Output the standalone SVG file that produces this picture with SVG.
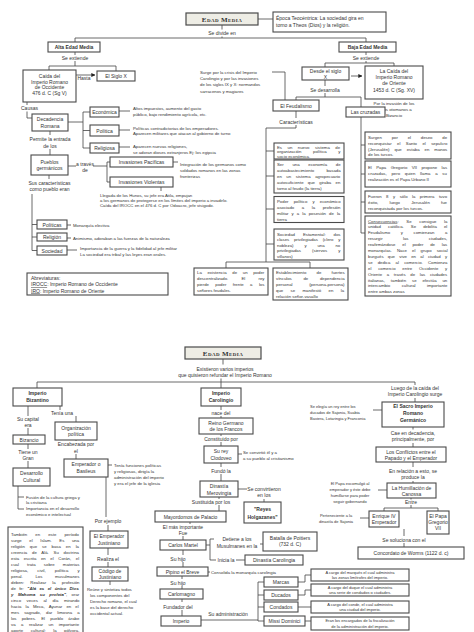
<svg xmlns="http://www.w3.org/2000/svg" width="474" height="632" viewBox="0 0 474 632">
<style>
text{font-family:"Liberation Sans",Arial,sans-serif;fill:#333}
.m{font-size:5px}
.s{font-size:4.3px}
.xs{font-size:4px}
.c{text-anchor:middle}
.bd{font-weight:bold}
.bx{fill:#fff;stroke:#4a4a4a;stroke-width:1.1}
.ttl{fill:#eeede5;stroke:#4a4a4a;stroke-width:1.2}
.tt{font-family:"Liberation Serif","Times New Roman",serif;font-weight:bold;font-variant:small-caps;font-size:7px;letter-spacing:0.4px}
.ln{fill:none;stroke:#444;stroke-width:0.8}
.bi{font-weight:bold;font-style:italic}
</style>
<defs>
<marker id="ar" viewBox="0 0 6 6" refX="5.5" refY="3" markerWidth="5" markerHeight="5" orient="auto"><path d="M0,0 L6,3 L0,6 z" fill="#222"/></marker>
</defs>
<rect width="474" height="632" fill="#fff"/>

<g id="connectors" class="ln">
<path d="M258,19 H273"/>
<path d="M222,25 V29.5 M222,36.5 V38 M75,38 H366 M75,38 V42 M366,38 V42"/>
<path d="M75,52 V55 M75,61 V66 M49,66 H116 M49,66 V70 M116,66 V71"/>
<path d="M76,75 H95" marker-end="url(#ar)"/>
<path d="M27,102 V105 M27,111.5 V118 H32"/>
<path d="M68,122 H83 M83,112 V148 M83,112 H90 M83,130.5 H90 M83,148 H90"/>
<path d="M119,111 H130 M119,130 H130 M119,147 H130"/>
<path d="M50,131 V135 M50,149 V155"/>
<path d="M68,166 H76 M93,166 H107 M107,162 V182 M107,162 H110 M107,182 H110"/>
<path d="M173,162 H178 M161,187 V191"/>
<path d="M49,175 V179 M32,194 V250.5 M32,224.5 H37 M32,237 H37 M32,250.5 H37"/>
<path d="M67,225 H71 M67,238 H71 M67,250 H77"/>
<path d="M366,52 V55 M366,61 V63 M325,63 H394 M325,63 V67 M394,63 V66"/>
<path d="M351,76 H362" marker-end="url(#ar)"/>
<path d="M325,80 V86 M325,93 V97 M296,97 H361 M296,97 V100 M361,97 V107"/>
<path d="M272,72 H285 V100"/>
<path d="M296,111 V118 M296,125 V128 M266,128 H296 M266,128 V262 M266,151 H274 M266,176 H274 M266,209 H274 M266,244 H274"/>
<path d="M226,262 H310 M226,262 V268 M310,262 V268"/>
<path d="M361,117 V233 M361,145 H365 M361,174 H365 M361,202 H365 M361,233 H365"/>
<path d="M223,359 V364.5 M221,378.5 V388 M37,382 H415 M37,382 V388 M415,382 V385"/>
<path d="M415,398 V402 M373,410 H382"/>
<path d="M413,427 V429.5 M413,443 V447 M413,462 V467 M413,481 V483 M378,490 H387"/>
<path d="M411,498 V499.5 M411,505 V508 M384,508 H438 M384,508 V511 M438,508 V511 M360,518 H369"/>
<path d="M404,529 V536 M404,543 V547"/>
<path d="M221,406 V410 M221,416 V418 M221,434 V436 M221,442 V446 M238,454 H242 M221,463 V467 M221,474 V481"/>
<path d="M238,489 H247 M264,499 V502 M219,497 V499 M219,505 V511 M190,522 V524 M183,536 V540"/>
<path d="M206,545 H210 M210,539 V560 M210,539 H214 M210,560 H216 M260,544 H263 M236,560 H245"/>
<path d="M183,550 V555 M183,562 V567 M208,572 H210 M182,576 V579 M182,586 V589 M182,599 V602 M182,610 V616"/>
<path d="M201,620 H258 M258,582 V621 M258,582 H264 M258,595 H264 M258,607 H264 M258,621 H264"/>
<path d="M298,582 H305 V575 H311 M298,595 H305 V590 H311 M298,607 H311 M305,621 H311"/>
<path d="M60,406 V410 M76,416 V422 M28,406 V416 M28,428 V435 M28,444 V449 M28,461 V468"/>
<path d="M76,440 V441 M76,454 V459 M108,465 H112 M106,477 V517 M108,525 V531 M108,548 V555 M108,562 V567 M110,581 V585"/>
<path d="M18,486 V509 M18,497 H24 M18,509 H24"/>
</g>

<g id="edad-media-1"><rect class="ttl" x="186" y="13" width="72" height="12"/><text class="tt c" x="222" y="22">Edad Media</text></g>
<g id="epoca"><rect class="bx" x="273" y="12" width="113" height="20"/><text class="m" x="276" y="20">Época Teocéntrica: La sociedad gira en<tspan x="276" y="27">torno a Theos (Dios) y la religión.</tspan></text></g>
<text class="m c" x="222" y="35">Se divide en</text>

<g id="alta"><rect class="bx" x="48" y="42" width="52" height="10"/><text class="m c bd" x="74" y="49">Alta Edad Media</text></g>
<text class="m c" x="75" y="60">Se extiende</text>
<g id="caida-occ"><rect class="bx" x="23" y="70" width="53" height="32"/><text class="m c" x="49.5" y="78">Caída del<tspan x="49.5" y="83.5">Imperio Romano</tspan><tspan x="49.5" y="89">de Occidente</tspan><tspan x="49.5" y="95">476 d. C (Sg V)</tspan></text></g>
<g id="siglo-x"><rect class="bx" x="97" y="71" width="38" height="10"/><text class="m c" x="116" y="78">El Siglo X</text></g>
<text class="m c" x="84" y="80">Hasta</text>
<text class="m" x="21" y="110">Causas</text>
<g id="decadencia"><rect class="bx" x="32" y="114" width="36" height="17"/><text class="m c" x="50" y="121">Decadencia<tspan x="50" y="127.5">Romana</tspan></text></g>
<g id="economica"><rect class="bx" x="90" y="107" width="29" height="10"/><text class="m c" x="104.5" y="114">Económica</text></g>
<g id="politica"><rect class="bx" x="90" y="125" width="29" height="11"/><text class="m c" x="104.5" y="132.5">Política</text></g>
<g id="religiosa"><rect class="bx" x="90" y="143" width="29" height="10"/><text class="m c" x="104.5" y="150">Religiosa</text></g>
<text class="s" x="133" y="110">Altos impuestos, aumento del gasto<tspan x="133" y="116">público, bajo rendimiento agrícola, etc.</tspan></text>
<text class="s" x="133" y="129.5">Políticas contradictorias de los emperadores.<tspan x="133" y="135">Aparecen militares que atacan al gobierno de turno</tspan></text>
<text class="s" x="133" y="147.5">Aparecen nuevas religiones,<tspan x="133" y="153.5">se adoran dioses extranjeros Ej: los egipcia</tspan></text>
<text class="m c" x="50" y="141">Permite la entrada<tspan x="50" y="147.5">de los</tspan></text>
<g id="pueblos"><rect class="bx" x="31" y="155" width="37" height="20"/><text class="m c" x="49.5" y="163.5">Pueblos<tspan x="49.5" y="170">germánicos</tspan></text></g>
<text class="m c" x="85" y="166">a través<tspan x="85" y="172">de</tspan></text>
<g id="inv-pac"><rect class="bx" x="110" y="157" width="63" height="10"/><text class="m c" x="141.5" y="164">Invasiones Pacíficas</text></g>
<g id="inv-vio"><rect class="bx" x="110" y="177" width="63" height="10"/><text class="m c" x="141.5" y="184">Invasiones Violentas</text></g>
<text class="s" x="180" y="165.5">Integración de los germanos como<tspan x="180" y="172">soldados romanos en las zonas</tspan><tspan x="180" y="178">fronterizas</tspan></text>
<text class="s" x="100" y="196.5">Llegada de los Hunos, su jefe era Atila, empujan<tspan x="100" y="201.5">a los germanos de protegerse en los límites del imperio a invadirlo.</tspan><tspan x="100" y="206.5">Caída del IROCC en el 476 d. C por Odoacro, jefe visigodo.</tspan></text>
<text class="m c" x="49.5" y="184.5">Sus características<tspan x="49.5" y="191">como pueblo eran</tspan></text>
<g id="politicas"><rect class="bx" x="37" y="220" width="30" height="9"/><text class="m c" x="52" y="226.5">Políticas</text></g>
<g id="religion"><rect class="bx" x="37" y="233" width="30" height="8"/><text class="m c" x="52" y="239">Religión</text></g>
<g id="sociedad"><rect class="bx" x="37" y="246" width="30" height="9"/><text class="m c" x="52" y="252.5">Sociedad</text></g>
<text class="s" x="73" y="226.5">Monarquía electiva</text>
<text class="s" x="73" y="239.5">Animismo, adoraban a las fuerzas de la naturaleza</text>
<text class="s" x="80" y="250">Importancia de la guerra y la fidelidad al jefe militar<tspan x="80" y="256">La sociedad era tribal y las leyes eran orales.</tspan></text>
<g id="abreviaturas"><rect class="bx" x="27" y="273" width="141" height="22"/><text class="m" x="31" y="279.5">Abreviaturas:</text><text class="m" x="31" y="286"><tspan text-decoration="underline">IROCC</tspan>: Imperio Romano de Occidente</text><text class="m" x="31" y="292.5"><tspan text-decoration="underline">IRO</tspan>: Imperio Romano de Oriente</text></g>

<g id="baja"><rect class="bx" x="339" y="42" width="57" height="10"/><text class="m c bd" x="367.5" y="49">Baja Edad Media</text></g>
<text class="m c" x="366" y="59.5">Se extiende</text>
<g id="desde"><rect class="bx" x="302" y="67" width="47" height="13"/><text class="m c" x="325.5" y="72.8">Desde el siglo<tspan x="325.5" y="78.6">X</tspan></text></g>
<g id="caida-ori"><rect class="bx" x="365" y="66" width="58" height="33"/><text class="m c" x="394" y="72.7">La Caída del<tspan x="394" y="79">Imperio Romano</tspan><tspan x="394" y="85.3">de Oriente</tspan><tspan x="394" y="91.6">1453 d. C (Sg. XV)</tspan></text></g>
<text class="s c" x="394" y="104.5">Por la invasión de los<tspan x="394" y="110.5">turcos otomanos a</tspan><tspan x="394" y="116.5">Bizancio</tspan></text>
<text class="m c" x="325" y="91.5">Se desarrolla</text>
<text class="s" x="200" y="73.5">Surge por la crisis del Imperio<tspan x="200" y="80">Carolingio y por las invasiones</tspan><tspan x="200" y="86.3">de los siglos IX y X: normandos</tspan><tspan x="200" y="92.6">sarracenos y magiares</tspan></text>
<g id="feudalismo"><rect class="bx" x="273" y="100" width="46" height="11"/><text class="m c" x="296" y="107.5">El Feudalismo</text></g>
<text class="m c" x="296" y="123.5">Características</text>
<g id="cruzadas"><rect class="bx" x="346" y="107" width="39" height="10"/><text class="m c" x="365.5" y="114">Las cruzadas</text></g>

<g id="feud-1"><rect class="bx" x="274" y="143" width="70" height="16"/>
<text class="s" x="277" y="148.5" word-spacing="4.3">Es un nuevo sistema de</text>
<text class="s" x="277" y="153" word-spacing="10.5">organización política y</text>
<text class="s" x="277" y="157.5">socio económica.</text></g>
<g id="feud-2"><rect class="bx" x="274" y="160" width="70" height="33"/>
<text class="s" x="277" y="165.5" word-spacing="7.5">Ser una economía de</text>
<text class="s" x="277" y="171.5" word-spacing="11">autoabastecimiento basada</text>
<text class="s" x="277" y="177.5" word-spacing="3.4">en un sistema agropecuario</text>
<text class="s" x="277" y="183.5" word-spacing="3.1">autosuficiente que giraba en</text>
<text class="s" x="277" y="189.5">torno al feudo (la tierra)</text></g>
<g id="feud-3"><rect class="bx" x="274" y="196.5" width="70" height="26"/>
<text class="s" x="277" y="202.5" word-spacing="4">Poder político y económico</text>
<text class="s" x="277" y="208.5" word-spacing="6.4">asociado a la profesión</text>
<text class="s" x="277" y="214.5" word-spacing="1.9">militar y a la posesión de la</text>
<text class="s" x="277" y="220.5">tierra</text></g>
<g id="feud-4"><rect class="bx" x="274" y="229" width="70" height="31"/>
<text class="s" x="277" y="235.5" word-spacing="6.8">Sociedad Estamental: dos</text>
<text class="s" x="277" y="241" word-spacing="3.6">clases privilegiadas (clero y</text>
<text class="s" x="277" y="246.5" word-spacing="9.7">nobleza) y una no</text>
<text class="s" x="277" y="252" word-spacing="10">privilegiadas (siervos y</text>
<text class="s" x="277" y="257.5">villanos)</text></g>
<g id="feud-5"><rect class="bx" x="273" y="268" width="75" height="32"/>
<text class="s" x="276" y="273.5" word-spacing="9">Establecimiento de fuertes</text>
<text class="s" x="276" y="279.5" word-spacing="10.5">vínculos de dependencia</text>
<text class="s" x="276" y="285.5" word-spacing="15.5">personal (persona-persona)</text>
<text class="s" x="276" y="291.5" word-spacing="6.2">que se manifestó en la</text>
<text class="s" x="276" y="297.5">relación señor-vasallo</text></g>
<g id="feud-6"><rect class="bx" x="194" y="268" width="74" height="27"/>
<text class="s" x="197" y="274" word-spacing="4.5">La existencia de un poder</text>
<text class="s" x="197" y="280" word-spacing="12">descentralizado. El rey</text>
<text class="s" x="197" y="286" word-spacing="5.2">pierde poder frente a los</text>
<text class="s" x="197" y="292">señores feudales.</text></g>

<g id="cruz-1"><rect class="bx" x="365" y="132" width="86" height="27"/>
<text class="s" x="368" y="138.5" word-spacing="8.6">Surgen por el deseo de</text>
<text class="s" x="368" y="144.5" word-spacing="4.2">reconquistar el Santo el sepulcro</text>
<text class="s" x="368" y="150.5" word-spacing="3.8">(Jerusalén) que estaba en manos</text>
<text class="s" x="368" y="156.3">de los turcos.</text></g>
<g id="cruz-2"><rect class="bx" x="365" y="161" width="86" height="26"/>
<text class="s" x="368" y="168.5" word-spacing="3.2">El Papa Gregorio VII propone las</text>
<text class="s" x="368" y="174.5" word-spacing="3.6">cruzadas, pero quien llama a su</text>
<text class="s" x="368" y="180.5">realización es el Papa Urbano II</text></g>
<g id="cruz-3"><rect class="bx" x="365" y="191" width="86" height="22"/>
<text class="s" x="368" y="198" word-spacing="3.3">Fueron 8 y sólo la primera tuvo</text>
<text class="s" x="368" y="203.5" word-spacing="10">éxito, luego Jerusalén fue</text>
<text class="s" x="368" y="209.5">reconquistada por los turcos.</text></g>
<g id="cruz-4"><rect class="bx" x="365" y="216" width="86" height="80"/>
<text class="s" x="368" y="222.5" word-spacing="6.5"><tspan text-decoration="underline">Consecuencias</tspan>: Se consigue la</text>
<text class="s" x="368" y="228.4" word-spacing="5.9">unidad católica. Se debilita el</text>
<text class="s" x="368" y="234.3" word-spacing="9.4">Feudalismo y comienzan a</text>
<text class="s" x="368" y="240.2" word-spacing="19.2">resurgir las ciudades,</text>
<text class="s" x="368" y="246.1" word-spacing="5.6">reafirmándose el poder de las</text>
<text class="s" x="368" y="252" word-spacing="3.9">monarquías. Nace el grupo social</text>
<text class="s" x="368" y="257.9" word-spacing="3.1">burgués que vive en al ciudad y</text>
<text class="s" x="368" y="263.8" word-spacing="4">se dedica al comercio. Comienza</text>
<text class="s" x="368" y="269.7" word-spacing="5.6">el comercio entre Occidente y</text>
<text class="s" x="368" y="275.6" word-spacing="3.5">Oriente a través de las ciudades</text>
<text class="s" x="368" y="281.5" word-spacing="4.7">italianas, también se efectúa un</text>
<text class="s" x="368" y="287.4" word-spacing="10.3">intercambio cultural importante</text>
<text class="s" x="368" y="293.3">entre ambas zonas</text></g>

<g id="edad-media-2"><rect class="ttl" x="185" y="347" width="76" height="12"/><text class="tt c" x="223" y="356">Edad Media</text></g>
<text class="m c" x="225" y="370.5">Existieron varios imperios<tspan x="225" y="376.5">que quisieron refundar el Imperio Romano</tspan></text>

<g id="bizantino"><rect class="bx" x="13" y="388" width="49" height="18"/><text class="m c bd" x="37.5" y="395.3">Imperio<tspan x="37.5" y="401.8">Bizantino</tspan></text></g>
<text class="m c" x="62" y="414.5">Tenía una</text>
<text class="m c" x="28" y="420.5">Su capital<tspan x="28" y="426.5">era</tspan></text>
<g id="organizacion"><rect class="bx" x="55" y="422" width="42" height="18"/><text class="m c" x="76" y="429.5">Organización<tspan x="76" y="436">política</tspan></text></g>
<g id="bizancio"><rect class="bx" x="13" y="435" width="32" height="9"/><text class="m c" x="29" y="441.5">Bizancio</text></g>
<text class="m c" x="76" y="446">Encabezada por<tspan x="76" y="452.5">el</tspan></text>
<text class="m c" x="28" y="453.5">Tiene un<tspan x="28" y="459.5">Gran</tspan></text>
<g id="emperador"><rect class="bx" x="64" y="459" width="44" height="18"/><text class="m c" x="86" y="466">Emperador o<tspan x="86" y="472.5">Basileus</tspan></text></g>
<text class="s" x="114" y="466.5">Tenía funciones políticas<tspan x="114" y="472.5">y religiosas, dirigía la</tspan><tspan x="114" y="478.5">administración del imperio</tspan><tspan x="114" y="484.5">y era el jefe de la iglesia</tspan></text>
<g id="desarrollo"><rect class="bx" x="13" y="468" width="37" height="18"/><text class="m c" x="31.5" y="475">Desarrollo<tspan x="31.5" y="482">Cultural</tspan></text></g>
<text class="s" x="26" y="498.5">Fusión de la cultura griega y<tspan x="26" y="504">la cristiana</tspan><tspan x="26" y="510">Importancia en el desarrollo</tspan><tspan x="26" y="515.5">económico e intelectual</tspan></text>
<text class="m c" x="108" y="522.5">Por ejemplo</text>
<g id="justiniano"><rect class="bx" x="90" y="531" width="38" height="17"/><text class="m c" x="109" y="538">El Emperador<tspan x="109" y="544.5">Justiniano</tspan></text></g>
<text class="m c" x="108" y="560.5">Realiza el</text>
<g id="codigo"><rect class="bx" x="92" y="567" width="36" height="14"/><text class="m c" x="110" y="573">Código de<tspan x="110" y="579">Justiniano</tspan></text></g>
<text class="s" x="87" y="590.5">Reúne y sintetiza todos<tspan x="90" y="596.5">los componentes del</tspan><tspan x="90" y="602.5">Derecho romano, el cual</tspan><tspan x="90" y="608.5">es la base del derecho</tspan><tspan x="90" y="614.5">occidental actual.</tspan></text>
<g id="islam"><rect class="bx" x="8" y="527" width="75" height="110"/>
<text class="s" x="11" y="535.5" word-spacing="6.9">También en este período</text>
<text class="s" x="11" y="541.5" word-spacing="6.4">surge el Islam. Es una</text>
<text class="s" x="11" y="547.5" word-spacing="3.8">religión que se basa en la</text>
<text class="s" x="11" y="553.5" word-spacing="3.6">creencia de Alá. Su doctrina</text>
<text class="s" x="11" y="559.5" word-spacing="3.4">esta escrita en el Corán, el</text>
<text class="s" x="11" y="565.5" word-spacing="7">cual trata sobre materias</text>
<text class="s" x="11" y="571.5" word-spacing="7.9">religiosa, civil, política y</text>
<text class="s" x="11" y="577.5" word-spacing="11.5">penal. Los musulmanes</text>
<text class="s" x="11" y="583.5" word-spacing="5">deben: Realizar la profesión</text>
<text class="s" x="11" y="589.5" word-spacing="2.2">de fe: <tspan class="bi">"Alá es el único Dios</tspan></text>
<text class="s" x="11" y="595.5" word-spacing="3.3"><tspan class="bi">y Mahoma su profeta"</tspan>, orar</text>
<text class="s" x="11" y="601.5" word-spacing="4.4">cinco veces al día mirando</text>
<text class="s" x="11" y="607.5" word-spacing="3">hacia la Meca, Ayunar en el</text>
<text class="s" x="11" y="613.5" word-spacing="3.9">mes sagrado, dar limosna a</text>
<text class="s" x="11" y="619.5" word-spacing="4">los pobres. El pueblo árabe</text>
<text class="s" x="11" y="625.5" word-spacing="4.3">va a realizar un importante</text>
<text class="s" x="11" y="631.5" word-spacing="6.3">aporte cultural: la pólvora,</text></g>

<g id="carolingio"><rect class="bx" x="201" y="388" width="40" height="18"/><text class="m c bd" x="221" y="395.3">Imperio<tspan x="221" y="401.8">Carolingio</tspan></text></g>
<text class="m c" x="221" y="414.5">nace del</text>
<g id="reino"><rect class="bx" x="199" y="418" width="54" height="16"/><text class="m c" x="226" y="424.5">Reino Germano<tspan x="226" y="431">de los Francos</tspan></text></g>
<text class="m c" x="221" y="440.5">Constituido por</text>
<g id="clodoveo"><rect class="bx" x="204" y="446" width="34" height="17"/><text class="m c" x="221" y="453">Su rey<tspan x="221" y="459.5">Clodoveo</tspan></text></g>
<text class="s" x="243" y="454">Se convirtió él y a<tspan x="243" y="460">a su pueblo al cristianismo</tspan></text>
<text class="m c" x="221" y="472.5">Fundó la</text>
<g id="merovingia"><rect class="bx" x="200" y="481" width="38" height="16"/><text class="m c" x="219" y="488">Dinastía<tspan x="219" y="494.5">Merovingia</tspan></text></g>
<text class="m c" x="264" y="490.5">Se convirtieron<tspan x="264" y="497">en los</tspan></text>
<g id="holgazanes"><rect class="bx" x="244" y="502" width="37" height="21"/><text class="m c bd" x="262.5" y="510.5">"Reyes<tspan x="262.5" y="518.5">Holgazanes"</tspan></text></g>
<text class="m c" x="211" y="503.5">Sustituida por los</text>
<g id="mayordomos"><rect class="bx" x="155" y="511" width="71" height="11"/><text class="m c" x="190.5" y="518.5">Mayordomos de Palacio</text></g>
<text class="m c" x="183" y="529">El más importante<tspan x="183" y="535">Fue</tspan></text>
<g id="martel"><rect class="bx" x="160" y="540" width="46" height="10"/><text class="m c" x="183" y="547">Carlos Martel</text></g>
<text class="m c" x="237" y="540.5">Detiene a los<tspan x="237" y="547.5">Musulmanes en la</tspan></text>
<g id="poitiers"><rect class="bx" x="263" y="532" width="54" height="19"/><text class="m c" x="290" y="539.5">Batalla de Poitiers<tspan x="290" y="546">(732 d. C)</tspan></text></g>
<text class="m c" x="226" y="561.5">Inicia la</text>
<g id="din-carolingia"><rect class="bx" x="245" y="555" width="58" height="10"/><text class="m c" x="274" y="562">Dinastía Carolingia</text></g>
<text class="m c" x="178" y="560.5">Su hijo</text>
<g id="pipino"><rect class="bx" x="157" y="567" width="51" height="9"/><text class="m c" x="182.5" y="573.5">Pipino el Breve</text></g>
<text class="s" x="211" y="573.5">Consolida la monarquía carolingia</text>
<text class="m c" x="178" y="584.5">Su hijo</text>
<g id="carlomagno"><rect class="bx" x="160" y="589" width="43" height="10"/><text class="m c" x="181.5" y="596">Carlomagno</text></g>
<text class="m c" x="178" y="608.5">Fundador del</text>
<g id="imperio"><rect class="bx" x="161" y="616" width="40" height="10"/><text class="m c" x="181" y="623">Imperio</text></g>
<text class="m c" x="228" y="615.5">Su administración</text>
<g id="marcas"><rect class="bx" x="264" y="577" width="34" height="10"/><text class="m c" x="281" y="584">Marcas</text></g>
<g id="ducados"><rect class="bx" x="264" y="590" width="34" height="10"/><text class="m c" x="281" y="597">Ducados</text></g>
<g id="condados"><rect class="bx" x="264" y="602" width="34" height="10"/><text class="m c" x="281" y="609">Condados</text></g>
<g id="missi"><rect class="bx" x="264" y="616" width="41" height="10"/><text class="m c" x="284.5" y="623">Missi Dominici</text></g>
<g id="d-marcas"><rect class="bx" x="311" y="569" width="98" height="12"/><text class="xs c" x="360" y="573.8">A cargo del marqués el cual administra<tspan x="360" y="579.3">las zonas limítrofes del imperio.</tspan></text></g>
<g id="d-ducados"><rect class="bx" x="311" y="584" width="98" height="12"/><text class="xs c" x="360" y="588.8">A cargo del duque el cual administra<tspan x="360" y="594.3">una serie de condados o ciudades.</tspan></text></g>
<g id="d-condados"><rect class="bx" x="311" y="601" width="98" height="12"/><text class="xs c" x="360" y="605.8">A cargo del conde, el cual administra<tspan x="360" y="611.3">una ciudad del imperio.</tspan></text></g>
<g id="d-missi"><rect class="bx" x="311" y="617" width="98" height="13"/><text class="xs c" x="360" y="622">Eran los encargados de la fiscalización<tspan x="360" y="627.5">de la administración del imperio.</tspan></text></g>

<text class="m c" x="415" y="389.5">Luego de la caída del<tspan x="415" y="396">Imperio Carolingio surge</tspan></text>
<g id="sacro"><rect class="bx" x="382" y="402" width="62" height="25"/><text class="m c bd" x="413" y="408">El Sacro Imperio<tspan x="413" y="414.5">Romano</tspan><tspan x="413" y="421.5">Germánico</tspan></text></g>
<text class="xs" x="310" y="407.5">Se elegía un rey entre los<tspan x="310" y="413.5">ducados de Sajonia, Suabia</tspan><tspan x="310" y="419.5">Baviera, Lotaringia y Franconia</tspan></text>
<text class="m c" x="413" y="434.5">Cae en decadencia,<tspan x="413" y="441">principalmente, por</tspan></text>
<g id="conflictos"><rect class="bx" x="376" y="447" width="70" height="15"/><text class="m c" x="411" y="453.5">Los Conflictos entre el<tspan x="411" y="459.5">Papado y el Emperador</tspan></text></g>
<text class="m c" x="413" y="472.5">En relación a esto, se<tspan x="413" y="479">produce la</tspan></text>
<g id="canossa"><rect class="bx" x="387" y="483" width="49" height="15"/><text class="m c" x="411.5" y="490">La Humillación de<tspan x="411.5" y="496.3">Canossa</tspan></text></g>
<text class="xs c" x="350" y="484.5">El Papa excomulgó al<tspan x="350" y="490.5">emperador y éste debe</tspan><tspan x="350" y="496.5">humillarse para poder</tspan><tspan x="350" y="502.5">seguir gobernando</tspan></text>
<text class="m c" x="411" y="503.5">Entre</text>
<g id="enrique"><rect class="bx" x="369" y="511" width="30" height="16"/><text class="m c" x="384" y="518">Enrique IV<tspan x="384" y="524">Emperador</tspan></text></g>
<g id="gregorio"><rect class="bx" x="427" y="511" width="22" height="23"/><text class="m c" x="438" y="517.5">El Papa<tspan x="438" y="523.5">Gregorio</tspan><tspan x="438" y="529.5">VII</tspan></text></g>
<text class="xs c" x="336" y="517">Perteneciente a la<tspan x="336" y="522.5">dinastía de Sajonia</tspan></text>
<text class="m c" x="404" y="541.5">Se soluciona con el</text>
<g id="worms"><rect class="bx" x="358" y="547" width="106" height="12"/><text class="m c" x="411" y="555">Concordato de Worms (1122 d. c)</text></g>
</svg>
